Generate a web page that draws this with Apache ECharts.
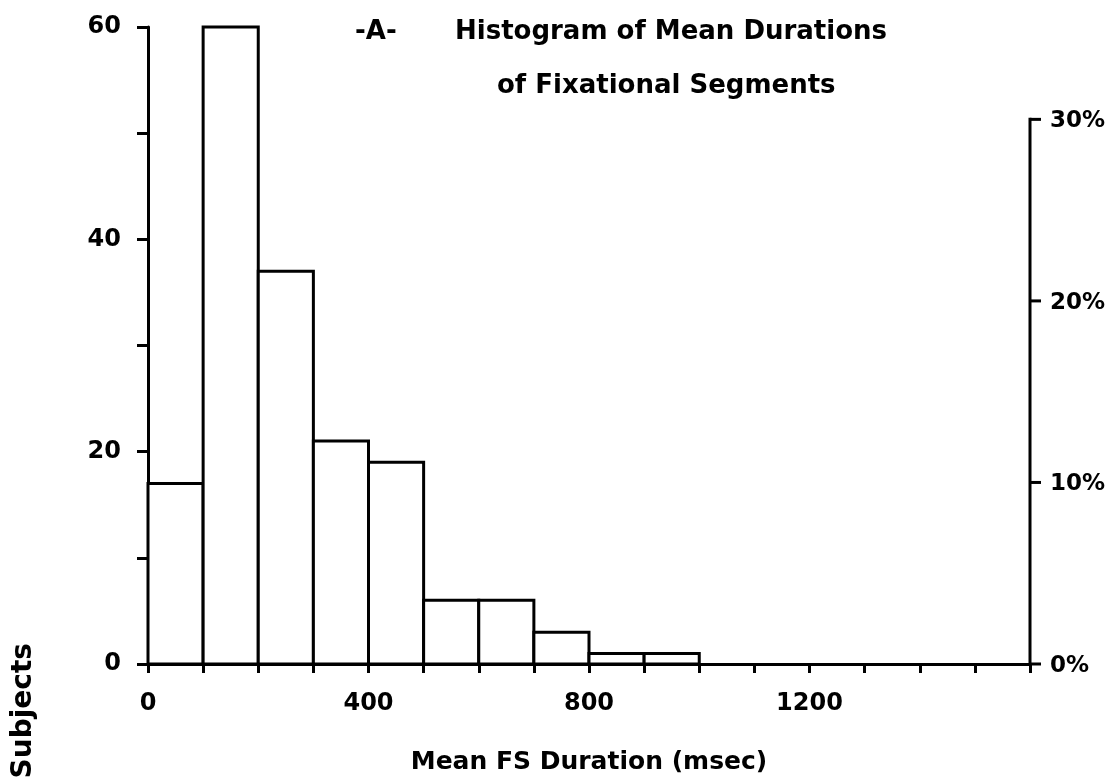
<!DOCTYPE html>
<html>
<head>
<meta charset="utf-8">
<script src="https://cdn.jsdelivr.net/npm/echarts@6/dist/echarts.min.js"></script>
<style>html,body{margin:0;padding:0;background:#fff}#c{width:1117px;height:781px}</style>
</head>
<body>
<div id="c"></div>
<script>
const binStarts = [0, 100, 200, 300, 400, 500, 600, 700, 800, 900];
const binWidth = 100;
const counts = [17, 60, 37, 21, 19, 6, 6, 3, 1, 1];
const leftTicks = [0, 20, 40, 60];
const rightTicks = [0, 10, 20, 30];
const xTicks = [0, 400, 800, 1200];
const xMax = 1600;
const totalSubjects = counts.reduce((a, b) => a + b, 0);

const FONT = "'DejaVu Sans', 'Liberation Sans', Arial, sans-serif";
const chart = echarts.init(document.getElementById('c'));
const lineStyle = {color: '#000', width: 3};
const labelStyle = {fontFamily: FONT, fontWeight: 'bold', fontSize: 24, color: '#000'};

function txt(text, x, y, size, align) {
  return {type: 'text', x: x, y: y,
    style: {text: text, font: 'bold ' + size + 'px ' + FONT, fill: '#000', textAlign: align || 'left', textVerticalAlign: 'middle'}};
}

chart.setOption({
  animation: false,
  backgroundColor: '#fff',
  grid: {left: 148, right: 87, top: 27, bottom: 117},
  graphic: [
    txt('-A-', 355, 32, 26),
    txt('Histogram of Mean Durations', 455, 32, 26),
    txt('of Fixational Segments', 497, 86, 26),
    {
      type: 'text', x: 10, y: 643, rotation: Math.PI / 2,
      style: {text: 'Subjects', font: 'bold 28px ' + FONT, fill: '#000', textAlign: 'right', textVerticalAlign: 'top'}
    }
  ],
  xAxis: {
    type: 'value', min: 0, max: xMax, interval: 400,
    name: 'Mean FS Duration (msec)', nameLocation: 'middle', nameGap: 86,
    nameTextStyle: {fontFamily: FONT, fontWeight: 'bold', fontSize: 25, color: '#000'},
    axisLine: {show: true, lineStyle: lineStyle},
    axisTick: {show: true, length: 9, lineStyle: lineStyle},
    minorTick: {show: true, splitNumber: 4, length: 9, lineStyle: lineStyle},
    splitLine: {show: false},
    axisLabel: Object.assign({margin: 28, formatter: v => xTicks.includes(v) ? String(v) : ''}, labelStyle)
  },
  yAxis: [{
    type: 'value', min: 0, max: 60, interval: 20, position: 'left',
    axisLine: {show: true, lineStyle: lineStyle},
    axisTick: {show: true, length: 11, lineStyle: lineStyle},
    minorTick: {show: true, splitNumber: 2, length: 11, lineStyle: lineStyle},
    splitLine: {show: false},
    axisLabel: Object.assign({margin: 27, formatter: v => leftTicks.includes(v) ? String(v) : ''}, labelStyle)
  }, {
    type: 'value', min: 0, max: 6000 / totalSubjects, interval: 10, position: 'right',
    axisLine: {show: false},
    axisTick: {show: false},
    splitLine: {show: false},
    axisLabel: {show: false}
  }],
  series: [{
    type: 'custom',
    data: binStarts.map((s, i) => [s, s + binWidth, counts[i]]),
    renderItem: function (params, api) {
      const p0 = api.coord([api.value(0), 0]);
      const p1 = api.coord([api.value(1), api.value(2)]);
      return {
        type: 'rect',
        shape: {x: p0[0], y: p1[1], width: p1[0] - p0[0], height: p0[1] - p1[1]},
        style: {fill: '#fff', stroke: '#000', lineWidth: 3}
      };
    },
    encode: {x: [0, 1], y: 2},
    z: 1
  }, {
    // right-hand percentage axis (line, ticks and labels) drawn on yAxis 1
    type: 'custom',
    yAxisIndex: 1,
    data: rightTicks.map(t => [xMax, t]),
    renderItem: function (params, api) {
      const p = api.coord([api.value(0), api.value(1)]);
      const children = [
        {type: 'line', shape: {x1: p[0], y1: p[1], x2: p[0] + 11, y2: p[1]}, style: {stroke: '#000', lineWidth: 3}},
        {type: 'text', x: p[0] + 20, y: p[1] + 2, style: {text: api.value(1) + '%', font: 'bold 23px ' + FONT, fill: '#000', textAlign: 'left', textVerticalAlign: 'middle'}}
      ];
      if (params.dataIndex === rightTicks.length - 1) {
        const p0 = api.coord([api.value(0), rightTicks[0]]);
        children.push({type: 'line', shape: {x1: p[0], y1: p[1] - 1.5, x2: p0[0], y2: p0[1]}, style: {stroke: '#000', lineWidth: 3}});
      }
      return {type: 'group', children: children};
    },
    encode: {x: 0, y: 1},
    z: 3
  }]
});
</script>
</body>
</html>
